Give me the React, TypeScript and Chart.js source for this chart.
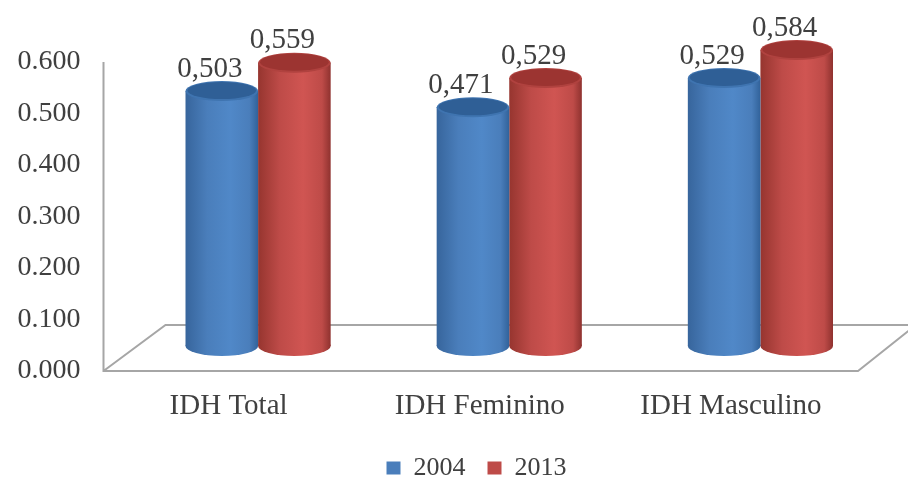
import React, { useEffect, useRef } from "react";
import { Chart, registerables } from "chart.js";

Chart.register(...registerables);

const categories = ["IDH Total", "IDH Feminino", "IDH Masculino"];
const series2004 = [0.503, 0.471, 0.529];
const series2013 = [0.559, 0.529, 0.584];
const labels2004 = ["0,503", "0,471", "0,529"];
const labels2013 = ["0,559", "0,529", "0,584"];
const seriesNames = ["2004", "2013"];
const tickLabels = ["0.000", "0.100", "0.200", "0.300", "0.400", "0.500", "0.600"];

const FONT = "'Liberation Serif', serif";
const TEXT = "#404040";
const AXIS = "#a6a6a6";
const palettes = [
  { solid: "#4a7ebb", edgeL: "#37659c", mid: "#5088c8", edgeR: "#31629a", cap: "#2f5f96", rim: "#3f74b0" },
  { solid: "#be4b48", edgeL: "#96352f", mid: "#d05552", edgeR: "#8f322f", cap: "#9c3431", rim: "#b0423f" },
];
const RY = 10;

function sideGradient(c: CanvasRenderingContext2D, left: number, width: number, p: typeof palettes[0]) {
  const g = c.createLinearGradient(left, 0, left + width, 0);
  g.addColorStop(0, p.edgeL);
  g.addColorStop(0.3, p.solid);
  g.addColorStop(0.62, p.mid);
  g.addColorStop(0.88, p.solid);
  g.addColorStop(1, p.edgeR);
  return g;
}

const cylinderPlugin = {
  id: "cylinder",
  beforeDraw(chart: any) {
    // tick labels sit far left of the axis box; widen the label clip area
    chart.scales.y.left = 0;
  },
  beforeDatasetsDraw(chart: any) {
    const { ctx: c, chartArea: a, scales } = chart;
    const y0 = scales.y.getPixelForValue(0);
    const yBack = y0 - 46;
    c.save();
    c.strokeStyle = AXIS;
    c.lineWidth = 2;
    const left = a.left - 29;
    const right = a.right - 28;
    c.beginPath();
    c.moveTo(left, scales.y.getPixelForValue(0.6));
    c.lineTo(left, y0);
    c.lineTo(right, y0);
    c.lineTo(right + 58, y0 - 46);
    c.moveTo(left, y0);
    c.lineTo(left + 62, yBack);
    c.lineTo(right + 58, yBack);
    c.stroke();
    c.restore();
  },
  beforeDatasetDraw(chart: any, args: any) {
    const c = chart.ctx;
    const p = palettes[args.index];
    c.save();
    chart.getDatasetMeta(args.index).data.forEach((el: any) => {
      const w = el.width;
      const g = sideGradient(c, el.x - w / 2, w, p);
      el.options = Object.assign({}, el.options, { backgroundColor: g });
      c.fillStyle = g;
      c.beginPath();
      c.ellipse(el.x, el.base, w / 2, RY, 0, 0, Math.PI * 2);
      c.fill();
    });
    c.restore();
  },
  afterDatasetDraw(chart: any, args: any) {
    const c = chart.ctx;
    const p = palettes[args.index];
    c.save();
    chart.getDatasetMeta(args.index).data.forEach((el: any) => {
      c.fillStyle = p.rim;
      c.beginPath();
      c.ellipse(el.x, el.y, el.width / 2, RY, 0, 0, Math.PI * 2);
      c.fill();
      c.fillStyle = p.cap;
      c.beginPath();
      c.ellipse(el.x, el.y - 0.5, el.width / 2 - 2, RY - 1.5, 0, 0, Math.PI * 2);
      c.fill();
    });
    c.restore();
  },
  afterDatasetsDraw(chart: any) {
    const c = chart.ctx;
    c.save();
    c.font = `29px ${FONT}`;
    c.fillStyle = TEXT;
    c.textAlign = "center";
    c.textBaseline = "middle";
    [labels2004, labels2013].forEach((texts, d) => {
      chart.getDatasetMeta(d).data.forEach((el: any, i: number) => {
        c.fillText(texts[i], el.x - 12, el.y - 22);
      });
    });
    c.restore();
  },
};

export default function App() {
  const ref = useRef<HTMLCanvasElement>(null);
  useEffect(() => {
    const chart = new Chart(ref.current as HTMLCanvasElement, {
      type: "bar",
      plugins: [cylinderPlugin],
      data: {
        labels: categories,
        datasets: [
          { label: seriesNames[0], data: series2004, yAxisID: "yBars", backgroundColor: palettes[0].solid, clip: false as any },
          { label: seriesNames[1], data: series2013, yAxisID: "yBars", backgroundColor: palettes[1].solid, clip: false as any },
        ],
      },
      options: {
        animation: false,
        responsive: false,
        layout: { padding: { left: 67, right: 22, top: 62, bottom: -14 } },
        datasets: { bar: { categoryPercentage: 0.578, barPercentage: 1, borderWidth: 0 } },
        scales: {
          x: {
            grid: { display: false },
            border: { display: false },
            ticks: { labelOffset: -29.5, padding: 10, color: TEXT, font: { family: FONT, size: 29 }, maxRotation: 0 },
            afterFit: (s: any) => { s.height = 62; },
          },
          y: {
            min: 0,
            max: 0.6,
            grid: { display: false, drawTicks: false },
            border: { display: false },
            ticks: {
              stepSize: 0.1,
              padding: 52,
              color: TEXT,
              font: { family: FONT, size: 28 },
              callback: (_v: any, i: number) => tickLabels[i],
            },
            afterFit: (s: any) => {
              s.width = 65.5;
              s.paddingTop = 0;
              s.paddingBottom = 0;
            },
          },
          yBars: { display: false, min: -0.0495, max: 0.5604 },
        },
        plugins: {
          tooltip: { enabled: false },
          legend: {
            position: "bottom",
            labels: { boxWidth: 14, boxHeight: 13, padding: 22, color: TEXT, font: { family: FONT, size: 26 } },
          },
        },
      },
    });
    return () => chart.destroy();
  }, []);
  return (
    <div style={{ position: "absolute", left: 0, top: 0, width: 908, height: 477, background: "#fff" }}>
      <canvas ref={ref} width={908} height={477} style={{ display: "block", filter: "blur(0.5px)" }} />
    </div>
  );
}
